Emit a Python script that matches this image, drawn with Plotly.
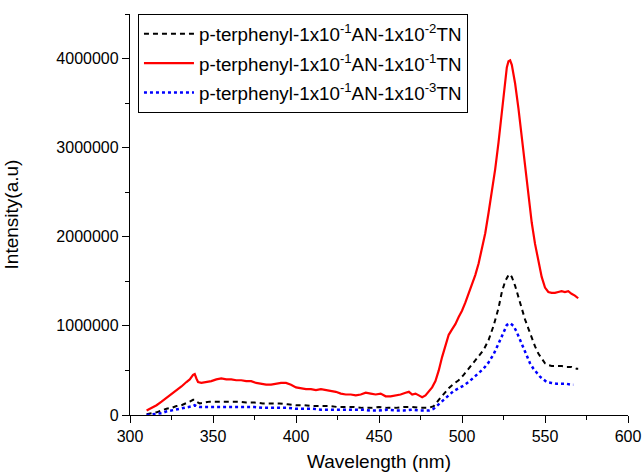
import plotly.graph_objects as go

# Emission spectra: wavelength (nm) and intensity (a.u.)
wl_red = [310, 313, 316, 319, 322, 325, 328, 331, 334, 336, 338, 339, 340, 341, 343, 346, 349, 352,
          355, 358, 361, 364, 367, 370, 373, 376, 379, 382, 385, 388, 391, 394, 397, 400, 403, 406,
          409, 412, 415, 418, 421, 424, 427, 430, 433, 436, 439, 442, 445, 448, 451, 454, 457, 460,
          463, 466, 468, 470, 472, 474, 476, 478, 480, 482, 484, 486, 488, 490, 492, 494, 496, 498,
          500, 502, 504, 506, 508, 510, 512, 514, 516, 518, 520, 522, 524, 526, 527, 528, 529, 530,
          531, 532, 534, 536, 538, 540, 542, 544, 546, 548, 550, 552, 554, 556, 558, 560, 562, 564,
          566, 568, 570]
int_red = [0.05, 0.08, 0.11, 0.15, 0.19, 0.23, 0.28, 0.32, 0.37, 0.40, 0.45, 0.46, 0.41, 0.37, 0.36,
           0.37, 0.38, 0.40, 0.41, 0.40, 0.40, 0.39, 0.39, 0.38, 0.38, 0.36, 0.35, 0.34, 0.34, 0.35,
           0.36, 0.36, 0.34, 0.31, 0.30, 0.29, 0.29, 0.28, 0.29, 0.28, 0.27, 0.26, 0.24, 0.23, 0.23,
           0.22, 0.23, 0.25, 0.24, 0.23, 0.24, 0.21, 0.21, 0.22, 0.23, 0.25, 0.26, 0.23, 0.24, 0.22,
           0.20, 0.22, 0.26, 0.31, 0.38, 0.50, 0.65, 0.78, 0.90, 0.96, 1.02, 1.10, 1.17, 1.26, 1.36,
           1.46, 1.57, 1.70, 1.86, 2.04, 2.27, 2.50, 2.76, 3.06, 3.40, 3.75, 3.90, 3.97, 3.98, 3.93,
           3.84, 3.72, 3.44, 3.12, 2.78, 2.45, 2.16, 1.92, 1.72, 1.55, 1.43, 1.38, 1.37, 1.37, 1.38,
           1.39, 1.38, 1.39, 1.36, 1.34, 1.31]

wl_black = [310, 313, 316, 319, 322, 325, 328, 331, 334, 336, 338, 339, 340, 342, 345, 348, 351, 355,
            360, 365, 370, 375, 380, 385, 390, 395, 400, 405, 410, 415, 420, 425, 430, 435, 440, 445,
            450, 455, 460, 465, 470, 475, 480, 483, 486, 489, 492, 495, 498, 501, 504, 507, 510, 513,
            516, 519, 522, 524, 526, 528, 529, 530, 532, 534, 536, 538, 540, 542, 544, 546, 548, 550,
            552, 554, 557, 560, 563, 566, 569, 570]
int_black = [0.01, 0.02, 0.03, 0.05, 0.07, 0.08, 0.10, 0.11, 0.13, 0.15, 0.17, 0.17, 0.15, 0.13, 0.14,
             0.15, 0.15, 0.15, 0.15, 0.15, 0.14, 0.14, 0.13, 0.13, 0.13, 0.12, 0.11, 0.11, 0.10, 0.10,
             0.10, 0.09, 0.09, 0.09, 0.08, 0.08, 0.09, 0.08, 0.08, 0.09, 0.09, 0.08, 0.08, 0.10, 0.17,
             0.24, 0.30, 0.35, 0.39, 0.45, 0.52, 0.58, 0.65, 0.73, 0.84, 1.00, 1.20, 1.38, 1.50, 1.57,
             1.58, 1.55, 1.45, 1.32, 1.18, 1.07, 0.97, 0.86, 0.77, 0.69, 0.63, 0.58, 0.56, 0.55, 0.55,
             0.55, 0.54, 0.54, 0.52, 0.52]

wl_blue = [310, 313, 316, 319, 322, 325, 328, 331, 334, 336, 338, 339, 340, 342, 345, 350, 355, 360,
           365, 370, 375, 380, 385, 390, 395, 400, 405, 410, 415, 420, 425, 430, 435, 440, 445, 450,
           455, 460, 465, 470, 475, 480, 483, 486, 489, 492, 495, 498, 501, 504, 507, 510, 513, 516,
           519, 522, 525, 527, 529, 531, 533, 535, 537, 539, 541, 543, 545, 547, 549, 551, 554, 557,
           560, 563, 566, 567]
int_blue = [0.00, 0.005, 0.01, 0.02, 0.04, 0.05, 0.06, 0.07, 0.08, 0.09, 0.10, 0.11, 0.10, 0.09, 0.09,
            0.09, 0.09, 0.09, 0.09, 0.09, 0.09, 0.08, 0.08, 0.08, 0.08, 0.07, 0.07, 0.07, 0.06, 0.06,
            0.06, 0.06, 0.06, 0.06, 0.05, 0.05, 0.06, 0.05, 0.05, 0.06, 0.05, 0.05, 0.07, 0.12, 0.18,
            0.23, 0.27, 0.30, 0.33, 0.37, 0.42, 0.47, 0.52, 0.59, 0.68, 0.80, 0.93, 1.01, 1.03, 1.00,
            0.93, 0.84, 0.74, 0.65, 0.58, 0.52, 0.47, 0.43, 0.40, 0.37, 0.36, 0.35, 0.35, 0.35, 0.34,
            0.34]

SCALE = 1_000_000  # intensities above are in millions of counts

names = [
    "p-terphenyl-1x10<sup>-1</sup>AN-1x10<sup>-2</sup>TN",
    "p-terphenyl-1x10<sup>-1</sup>AN-1x10<sup>-1</sup>TN",
    "p-terphenyl-1x10<sup>-1</sup>AN-1x10<sup>-3</sup>TN",
]

fig = go.Figure()
fig.add_trace(go.Scatter(x=wl_black, y=[v * SCALE for v in int_black], mode="lines", name=names[0],
                         legendgroup="a",
                         line=dict(color="black", width=2, dash="5px,4px")))
fig.add_trace(go.Scatter(x=wl_red, y=[v * SCALE for v in int_red], mode="lines", name=names[1],
                         legendgroup="b",
                         line=dict(color="#ff0000", width=2.2)))
fig.add_trace(go.Scatter(x=wl_blue, y=[v * SCALE for v in int_blue], mode="lines", name=names[2],
                         legendgroup="c",
                         line=dict(color="#0000ff", width=2.5, dash="dot")))

font_family = "Liberation Sans, Arial, sans-serif"
axis_common = dict(showgrid=False, zeroline=False, automargin=False,
                   showline=True, linecolor="black", linewidth=1.3,
                   ticks="outside", ticklen=7, tickcolor="black", tickwidth=1.3,
                   tickfont=dict(size=16), ticklabeloverflow="allow")

fig.update_layout(
    width=642, height=475,
    margin=dict(l=130, r=14, t=14, b=60),
    paper_bgcolor="white", plot_bgcolor="white",
    font=dict(family=font_family, color="black", size=16),
    showlegend=True,
    legend=dict(x=0.016, y=1.0, xanchor="left", yanchor="top",
                bgcolor="white", bordercolor="black", borderwidth=1,
                font=dict(size=18.8, family=font_family), tracegroupgap=2,
                itemwidth=50),
    xaxis=dict(range=[300, 600], dtick=50, tick0=300,
               minor=dict(ticks="outside", ticklen=4, dtick=25, tickcolor="black", tickwidth=1.3),
               title=dict(text="Wavelength (nm)", font=dict(size=19), standoff=10),
               **axis_common),
    yaxis=dict(range=[0, 4500000], dtick=1000000, tick0=0,
               minor=dict(ticks="outside", ticklen=4, dtick=500000, tickcolor="black", tickwidth=1.3),
               tickformat="d",
               title=dict(text="Intensity(a.u)", font=dict(size=19), standoff=32),
               **axis_common),
)

fig.write_html("out.html")
